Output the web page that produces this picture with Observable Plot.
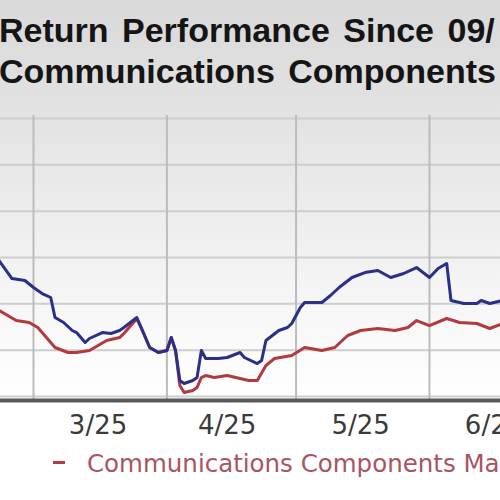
<!DOCTYPE html>
<html>
<head>
<meta charset="utf-8">
<script src="https://cdn.jsdelivr.net/npm/d3@7"></script>
<script src="https://cdn.jsdelivr.net/npm/@observablehq/plot@0.6"></script>
<style>
  html, body { margin: 0; padding: 0; background: #fff; }
  #page { position: relative; width: 500px; height: 500px; overflow: hidden; background: #fff; }
  #bg { position: absolute; left: 0; top: 0; width: 500px; height: 400px;
        background: linear-gradient(#d9d9d9 0px, #e3e3e3 120px, #f6f6f6 300px, #ffffff 400px); }
  .title { position: absolute; left: -1px; white-space: nowrap; font-family: "Liberation Sans", Arial, sans-serif;
           font-weight: bold; font-size: 34px; line-height: 34px; color: #151515; word-spacing: 4px; }
  #chart { position: absolute; left: 0; top: 100px; }
  #legend { position: absolute; left: 87px; top: 452px; white-space: nowrap; font-family: "DejaVu Sans", sans-serif;
            font-size: 24.5px; line-height: 24px; color: #a85563; }
  #dash { position: absolute; left: 53px; top: 461px; width: 12px; height: 3px; background: #b83a44; }
</style>
</head>
<body>
<div id="page">
  <div id="bg"></div>
  <div class="title" style="top:13px">Return Performance Since 09/</div>
  <div class="title" style="top:54px">Communications Components</div>
  <div id="chart"></div>
  <div id="dash"></div>
  <div id="legend">Communications Components Ma</div>
</div>
<script>
// Stock (blue) series
const stockDates = ["2025-02-21","2025-02-24","2025-02-27","2025-03-01","2025-03-03","2025-03-05","2025-03-06","2025-03-08","2025-03-10","2025-03-11","2025-03-13","2025-03-14","2025-03-17","2025-03-19","2025-03-21","2025-03-22","2025-03-25","2025-03-26","2025-03-28","2025-03-30","2025-04-01","2025-04-02","2025-04-03","2025-04-04","2025-04-05","2025-04-07","2025-04-08","2025-04-09","2025-04-10","2025-04-13","2025-04-15","2025-04-18","2025-04-19","2025-04-22","2025-04-23","2025-04-24","2025-04-27","2025-04-29","2025-04-30","2025-05-02","2025-05-03","2025-05-07","2025-05-09","2025-05-11","2025-05-14","2025-05-17","2025-05-20","2025-05-23","2025-05-26","2025-05-29","2025-06-01","2025-06-03","2025-06-05","2025-06-06","2025-06-09","2025-06-12","2025-06-13","2025-06-15","2025-06-18"];
const stockValues = [-0.65,-4.53,-4.96,-6.47,-7.77,-8.63,-12.95,-14.03,-15.75,-16.19,-18.34,-17.48,-16.19,-16.40,-15.75,-15.11,-12.95,-15.11,-19.42,-20.50,-20.07,-17.27,-20.07,-26.55,-27.19,-26.55,-25.90,-20.07,-21.80,-21.80,-21.58,-20.50,-21.58,-22.88,-22.23,-17.91,-15.75,-15.11,-14.24,-10.79,-9.71,-9.71,-8.20,-6.47,-4.31,-3.24,-2.80,-4.31,-3.45,-2.16,-4.31,-2.37,-1.29,-9.28,-9.93,-9.93,-9.28,-9.93,-9.28];

// Industry (red) series
const industryDates = ["2025-02-21","2025-02-25","2025-02-28","2025-03-02","2025-03-04","2025-03-06","2025-03-09","2025-03-11","2025-03-14","2025-03-16","2025-03-18","2025-03-21","2025-03-22","2025-03-25","2025-03-26","2025-03-28","2025-03-30","2025-04-01","2025-04-02","2025-04-03","2025-04-04","2025-04-05","2025-04-07","2025-04-08","2025-04-09","2025-04-10","2025-04-12","2025-04-15","2025-04-18","2025-04-20","2025-04-22","2025-04-24","2025-04-26","2025-04-30","2025-05-03","2025-05-07","2025-05-10","2025-05-13","2025-05-16","2025-05-20","2025-05-24","2025-05-27","2025-05-29","2025-06-01","2025-06-05","2025-06-08","2025-06-12","2025-06-15","2025-06-18"];
const industryValues = [-11.44,-13.60,-14.03,-15.11,-17.27,-19.42,-20.50,-20.50,-20.07,-18.99,-17.91,-17.27,-16.40,-13.20,-15.11,-19.42,-20.50,-20.07,-17.27,-20.07,-27.63,-29.14,-28.70,-28.06,-25.90,-25.47,-25.90,-25.47,-26.11,-26.55,-26.55,-23.31,-21.80,-21.15,-19.42,-20.07,-19.42,-16.83,-15.75,-15.32,-15.75,-15.11,-13.60,-14.68,-13.16,-14.03,-14.24,-15.32,-14.24];

// Axis
const monthStarts = ["2025-03-01","2025-04-01","2025-05-01","2025-06-01"];
const tickDates = ["2025-03-16","2025-04-15","2025-05-16","2025-06-16"];
const tickLabels = ["3/25","4/25","5/25","6/25"];
const yGrid = [-30,-20,-10,0,10,20,30];
const xDomain = ["2025-02-21T08:00:00Z","2025-06-17T12:00:00Z"];
const yDomain = [-30.86, 30.65];

const toDate = s => new Date(s.length === 10 ? s + "T00:00:00Z" : s);
const stock = stockDates.map((d, i) => ({date: toDate(d), value: stockValues[i]}));
const industry = industryDates.map((d, i) => ({date: toDate(d), value: industryValues[i]}));
const ticks = tickDates.map(toDate);
const labelOf = new Map(ticks.map((t, i) => [+t, tickLabels[i]]));

const chart = Plot.plot({
  width: 500,
  height: 335,
  marginLeft: 0,
  marginRight: 0,
  marginTop: 15,
  marginBottom: 35,
  style: {background: "transparent", overflow: "visible"},
  x: {type: "utc", domain: xDomain.map(toDate)},
  y: {domain: yDomain},
  marks: [
    Plot.gridY(yGrid, {stroke: "#cdcdcd", strokeOpacity: 1, strokeWidth: 2}),
    Plot.gridX(monthStarts.map(toDate), {stroke: "#bcbcbc", strokeOpacity: 1, strokeWidth: 2}),
    Plot.lineY(industry, {x: "date", y: "value", stroke: "#b03a3e", strokeWidth: 3, clip: true}),
    Plot.lineY(stock, {x: "date", y: "value", stroke: "#2a2f88", strokeWidth: 3, clip: true}),
    Plot.ruleY([yDomain[0]], {stroke: "#5a5a5a", strokeWidth: 4}),
    Plot.axisX(ticks, {tickSize: 0, tickPadding: 15, fontSize: 26, fill: "#3a3a3a",
      tickFormat: d => labelOf.get(+d), fontFamily: "DejaVu Sans"}),
    Plot.axisY({ticks: [], label: null, tickSize: 0})
  ]
});
document.getElementById("chart").appendChild(chart);
</script>
</body>
</html>
